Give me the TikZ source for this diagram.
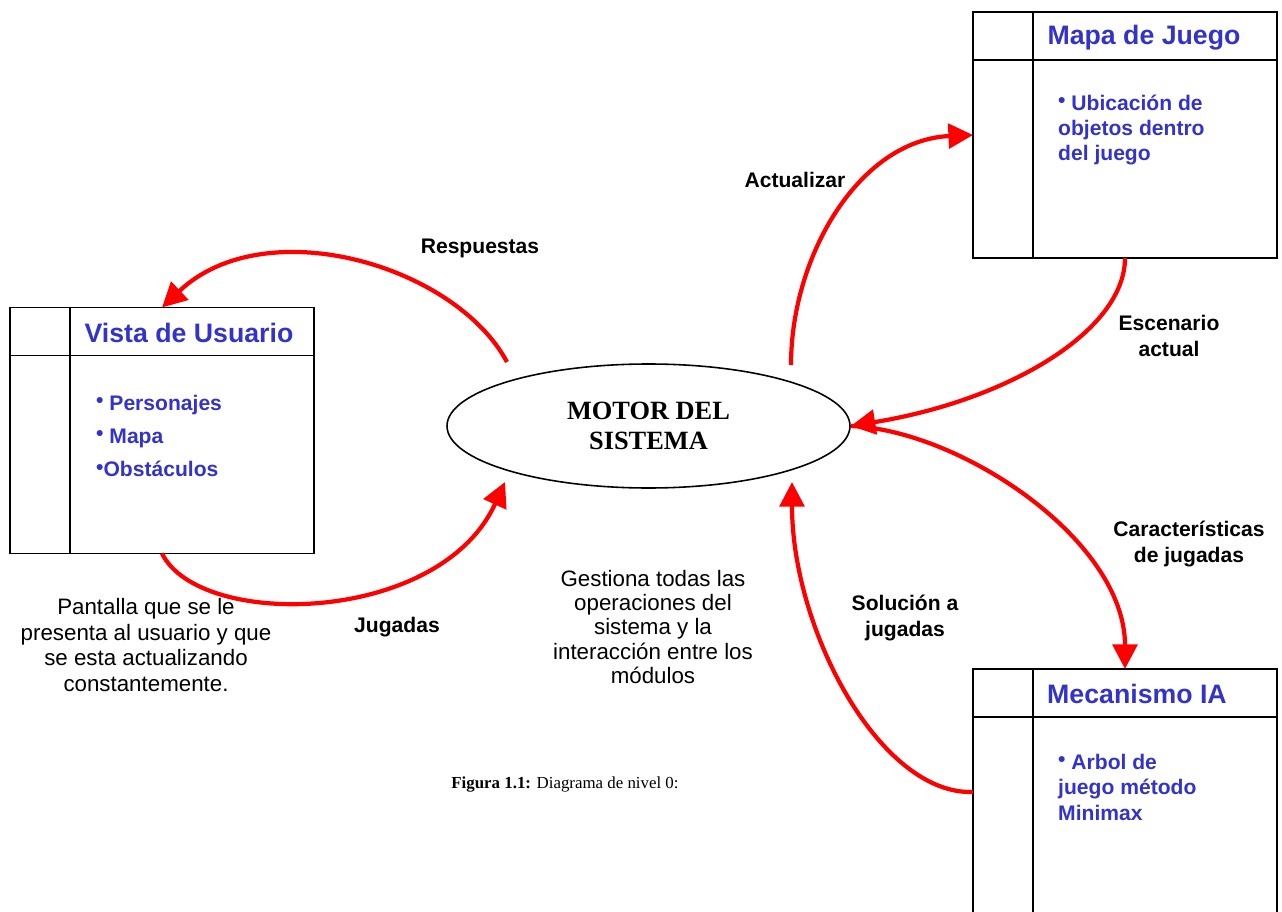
\documentclass[tikz,border=0pt]{standalone}
\usepackage{fontspec}
\setmainfont{Liberation Serif}
\setsansfont{Liberation Sans}
\usetikzlibrary{arrows.meta,shapes.geometric}

\definecolor{storeblue}{RGB}{51,51,204}
\newlength{\pxl}
\setlength{\pxl}{0.02cm}
\newcommand{\itm}{\raisebox{0.25ex}{\textbullet}}

\begin{document}
\begin{tikzpicture}[x=0.02cm, y=-0.02cm,
    storebox/.style={draw, line width=1.1pt, inner sep=0pt, outer sep=0pt,
        minimum width=304\pxl, minimum height=246\pxl},
    boxline/.style={line width=1.1pt},
    storetitle/.style={text=storeblue, font=\sffamily\bfseries\fontsize{15.2}{17}\selectfont},
    storeitems/.style={text=storeblue, anchor=west, align=left,
        font=\sffamily\bfseries\fontsize{12}{14.5}\selectfont},
    flow/.style={red, line width=2.4pt, -{Triangle[length=14pt,width=14pt]}},
    flowlabel/.style={align=center, font=\sffamily\bfseries\fontsize{12}{15}\selectfont},
    note/.style={align=center, font=\sffamily\fontsize{12.7}{14.7}\selectfont}]
\useasboundingbox (0,0) rectangle (1282,912);

% Store frame: outer box, narrow left column, header row
\newcommand{\storeframe}[3]{
    \node[storebox] (#1) at (#2,#3) {};
    \draw[boxline] ([xshift=60\pxl]#1.north west) -- ([xshift=60\pxl]#1.south west);
    \draw[boxline] ([yshift=-48\pxl]#1.north west) -- ([yshift=-48\pxl]#1.north east);
}

\storeframe{vista}{162}{430.5}
\storeframe{mapa}{1125}{135}
\storeframe{ia}{1125}{792}

% Titles and contents of the stores
\node[storetitle] (vistatitle) at (189,333) {Vista de Usuario};
\node[storetitle] (mapatitle) at (1144,38) {Mapa de Juego};
\node[storetitle] (iatitle) at (1137,694) {Mecanismo IA};

\node[storeitems, font=\sffamily\bfseries\fontsize{12}{19}\selectfont] (vistaitems) at (90,436)
    {\itm{} Personajes\\ \itm{} Mapa\\ \itm Obstáculos};
\node[storeitems] (mapaitems) at (1052,130) {\itm{} Ubicación de\\objetos dentro\\del juego};
\node[storeitems] (iaitems) at (1052,787) {\itm{} Arbol de\\juego método\\Minimax};

% Central process
\node[draw, ellipse, line width=0.9pt, minimum width=403\pxl, minimum height=124\pxl,
    font=\rmfamily\bfseries\fontsize{15}{17}\selectfont, align=center] (motor) at (648.5,426)
    {MOTOR DEL\\SISTEMA};

% Free ends next to the ellipse
\coordinate (respfrom) at (507,362);
\coordinate (jugto) at (505,482);
\coordinate (actfrom) at (791,365);
\coordinate (solto) at (792,482);

% Flows
\draw[flow] (respfrom) .. controls (455,265) and (265,210) .. (vista.north);
\draw[flow] (vista.south) .. controls (200,630) and (440,625) .. (jugto);
\draw[flow] (actfrom) .. controls (791,255) and (860,140) .. (mapa.west);
\draw[flow] (mapa.south) .. controls (1125,330) and (1010,400) .. (motor.east);
\draw[flow] (motor.east) .. controls (960,430) and (1125,540) .. (ia.north);
\draw[flow] (ia.west) .. controls (880,795) and (792,630) .. (solto);

% Flow labels
\node[flowlabel] (resplabel) at (480,248) {Respuestas};
\node[flowlabel] (juglabel) at (397,627) {Jugadas};
\node[flowlabel] (actlabel) at (795,180) {Actualizar};
\node[flowlabel] (esclabel) at (1169,336) {Escenario\\actual};
\node[flowlabel] (carlabel) at (1189,544) {Características\\de jugadas};
\node[flowlabel] (sollabel) at (905,618) {Solución a\\jugadas};

% Notes
\node[note] (pantalla) at (146,645)
    {Pantalla que se le\\presenta al usuario y que\\se esta actualizando\\constantemente.};
\node[note, font=\sffamily\fontsize{12.7}{13.9}\selectfont] (gestiona) at (653,627)
    {Gestiona todas las\\operaciones del\\sistema y la\\interacción entre los\\módulos};
\node[font=\rmfamily\fontsize{9.6}{11}\selectfont] (caption) at (565,785)
    {\textbf{Figura 1.1:} Diagrama de nivel 0:};
\end{tikzpicture}
\end{document}
